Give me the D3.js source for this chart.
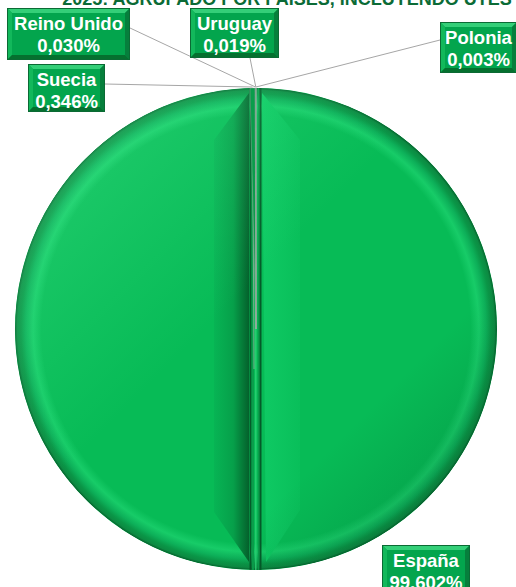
<!DOCTYPE html>
<html>
<head>
<meta charset="utf-8">
<script src="https://cdnjs.cloudflare.com/ajax/libs/d3/7.8.5/d3.min.js"></script>
<style>
  html, body { margin: 0; padding: 0; background: #fff; overflow: hidden; }
  svg { display: block; }
  text { font-family: "Liberation Sans", Arial, sans-serif; }
</style>
</head>
<body>
<div id="chart"></div>
<script>
// data
const countries = ["España", "Suecia", "Reino Unido", "Uruguay", "Polonia"];
const shares = [99.602, 0.346, 0.030, 0.019, 0.003];
const titleText = "2025: AGRUPADO POR PAÍSES, INCLUYENDO UTES";

// label box layout, keyed by country
const labelBoxes = {
    "España":      { x: 382, y: 545, w: 88,  h: 52, anchor: null },
    "Suecia":      { x: 28,  y: 64,  w: 77,  h: 48, anchor: [105, 84] },
    "Reino Unido": { x: 7,   y: 8,   w: 123, h: 52, anchor: [130, 28] },
    "Uruguay":     { x: 190, y: 8,   w: 89,  h: 50, anchor: [250, 58] },
    "Polonia":     { x: 440, y: 22,  w: 77,  h: 51, anchor: [440, 40] }
};

const width = 516, height = 587;
const cx = 256, cy = 329, r = 241;
const baseGreen = '#07bb56';

const svg = d3.select('#chart').append('svg')
    .attr('width', width)
    .attr('height', height);

const defs = svg.append('defs');

// rim bevel gradient
const rimGrad = defs.append('radialGradient')
    .attr('id', 'rimGrad')
    .attr('gradientUnits', 'userSpaceOnUse')
    .attr('cx', cx).attr('cy', cy).attr('r', r);
[[0.0, baseGreen], [0.89, baseGreen], [0.925, '#17cc68'], [0.955, '#0db059'],
 [0.975, '#0a9647'], [0.99, '#0c8a42'], [1.0, '#05602c']].forEach(s => {
    rimGrad.append('stop').attr('offset', s[0]).attr('stop-color', s[1]);
});

// directional light over the rim (top-left light, bottom-right shade)
const lightGrad = defs.append('linearGradient')
    .attr('id', 'lightGrad')
    .attr('x1', 0).attr('y1', 0).attr('x2', 1).attr('y2', 1);
lightGrad.append('stop').attr('offset', 0).attr('stop-color', '#6dffb0').attr('stop-opacity', 0.3);
lightGrad.append('stop').attr('offset', 0.45).attr('stop-color', '#6dffb0').attr('stop-opacity', 0.0);
lightGrad.append('stop').attr('offset', 0.7).attr('stop-color', '#003318').attr('stop-opacity', 0.0);
lightGrad.append('stop').attr('offset', 1).attr('stop-color', '#003318').attr('stop-opacity', 0.3);

// left ridge facet: darker toward the split
const leftGrad = defs.append('linearGradient')
    .attr('id', 'leftGrad')
    .attr('x1', 0).attr('y1', 0).attr('x2', 1).attr('y2', 0);
leftGrad.append('stop').attr('offset', 0).attr('stop-color', '#07b454');
leftGrad.append('stop').attr('offset', 0.55).attr('stop-color', '#06a04a');
leftGrad.append('stop').attr('offset', 1).attr('stop-color', '#04612c');

// right ridge facet: slightly lighter toward the split
const rightGrad = defs.append('linearGradient')
    .attr('id', 'rightGrad')
    .attr('x1', 0).attr('y1', 0).attr('x2', 1).attr('y2', 0);
rightGrad.append('stop').attr('offset', 0).attr('stop-color', '#0fca64');
rightGrad.append('stop').attr('offset', 1).attr('stop-color', '#09bf5a');

defs.append('clipPath').attr('id', 'pieClip')
    .append('circle').attr('cx', cx).attr('cy', cy).attr('r', r);

// title (only its lower part shows in the reference)
svg.append('text')
    .attr('x', 287)
    .attr('y', 5)
    .attr('text-anchor', 'middle')
    .attr('font-size', '18px')
    .attr('font-weight', 'bold')
    .attr('fill', '#0b6b36')
    .text(titleText);

// pie
const pie = d3.pie().sort(null).value(d => d)
    .startAngle(0).endAngle(2 * Math.PI);
const arcs = pie(shares);
const arc = d3.arc().innerRadius(0).outerRadius(r);
const rimArc = d3.arc().innerRadius(r).outerRadius(r);

const pieG = svg.append('g').attr('transform', `translate(${cx},${cy})`);

pieG.selectAll('.slice')
    .data(arcs)
    .enter()
    .append('path')
    .attr('class', 'slice')
    .attr('d', arc)
    .attr('fill', (d, i) => i === 0 ? baseGreen : '#0a9d4b');

// bevel effects clipped to the pie
const fx = svg.append('g').attr('clip-path', 'url(#pieClip)');

fx.append('circle')
    .attr('cx', cx).attr('cy', cy).attr('r', r)
    .attr('fill', 'url(#rimGrad)');

// ridge facets (bevel of the near-full slice)
const line = d3.line();
fx.append('path')
    .attr('d', line([[249, 93], [214, 140], [214, 512], [249, 562]]) + 'Z')
    .attr('fill', 'url(#leftGrad)');
fx.append('path')
    .attr('d', line([[262, 93], [300, 140], [300, 510], [266, 562]]) + 'Z')
    .attr('fill', 'url(#rightGrad)');

// small slices on top of the facets
const small = svg.append('g').attr('transform', `translate(${cx},${cy})`);
small.selectAll('.small')
    .data(arcs.slice(1))
    .enter()
    .append('path')
    .attr('class', 'small')
    .attr('d', arc)
    .attr('fill', '#0a9d4b')
    .attr('stroke', '#a6a6a6')
    .attr('stroke-width', 0.4);

// groove along the split
[[250.5, '#045a29', 2], [253, '#0a9d4b', 2], [255.8, '#2ad073', 1.4], [258.5, '#0a9d4b', 1.5], [260.5, '#045a29', 2]]
    .forEach(g => {
        fx.append('line')
            .attr('x1', g[0]).attr('x2', g[0])
            .attr('y1', cy - r).attr('y2', cy + r)
            .attr('stroke', g[1])
            .attr('stroke-width', g[2]);
    });
fx.append('line')
    .attr('x1', 252.5).attr('x2', 254)
    .attr('y1', cy - r).attr('y2', cy + 40)
    .attr('stroke', '#a8b8ae')
    .attr('stroke-width', 0.7);

// directional lighting
fx.append('circle')
    .attr('cx', cx).attr('cy', cy).attr('r', r)
    .attr('fill', 'url(#lightGrad)');

// inner highlight ring (upper left)
const hlArc = d3.arc()
    .innerRadius(r - 22).outerRadius(r - 18)
    .startAngle(-Math.PI * 0.95).endAngle(-Math.PI * 0.12);
pieG.append('path')
    .attr('d', hlArc())
    .attr('fill', '#3ee98a')
    .attr('opacity', 0.55);

// leader lines
const labelG = svg.append('g');
arcs.forEach((a, i) => {
    const box = labelBoxes[countries[i]];
    if (!box.anchor) return;
    const p = rimArc.centroid(a);
    labelG.append('line')
        .attr('x1', box.anchor[0]).attr('y1', box.anchor[1])
        .attr('x2', cx + p[0]).attr('y2', cy + p[1] - 1)
        .attr('stroke', '#a6a6a6')
        .attr('stroke-width', 1);
});

// beveled label boxes
const fmt = v => d3.format('.3f')(v).replace('.', ',') + '%';

function drawBox(g, x, y, w, h) {
    const b = 5;
    g.append('rect').attr('x', x).attr('y', y).attr('width', w).attr('height', h)
        .attr('fill', '#03a54d');
    const faces = [
        [[[x, y], [x + w, y], [x + w - b, y + b], [x + b, y + b]], '#34cf78'],
        [[[x, y], [x + b, y + b], [x + b, y + h - b], [x, y + h]], '#12b85b'],
        [[[x + w, y], [x + w, y + h], [x + w - b, y + h - b], [x + w - b, y + b]], '#067f3c'],
        [[[x, y + h], [x + b, y + h - b], [x + w - b, y + h - b], [x + w, y + h]], '#05702f']
    ];
    faces.forEach(f => {
        g.append('path').attr('d', line(f[0]) + 'Z').attr('fill', f[1]);
    });
    g.append('rect').attr('x', x + 0.5).attr('y', y + 0.5).attr('width', w - 1).attr('height', h - 1)
        .attr('fill', 'none').attr('stroke', '#0b6a34').attr('stroke-width', 1);
}

countries.forEach((c, i) => {
    const box = labelBoxes[c];
    const g = labelG.append('g');
    drawBox(g, box.x, box.y, box.w, box.h);
    const tx = box.x + box.w / 2;
    [c, fmt(shares[i])].forEach((t, k) => {
        g.append('text')
            .attr('x', tx)
            .attr('y', box.y + 22 + k * 22)
            .attr('text-anchor', 'middle')
            .attr('font-size', '18.5px')
            .attr('font-weight', 'bold')
            .attr('fill', '#ffffff')
            .text(t);
    });
});
</script>
</body>
</html>
